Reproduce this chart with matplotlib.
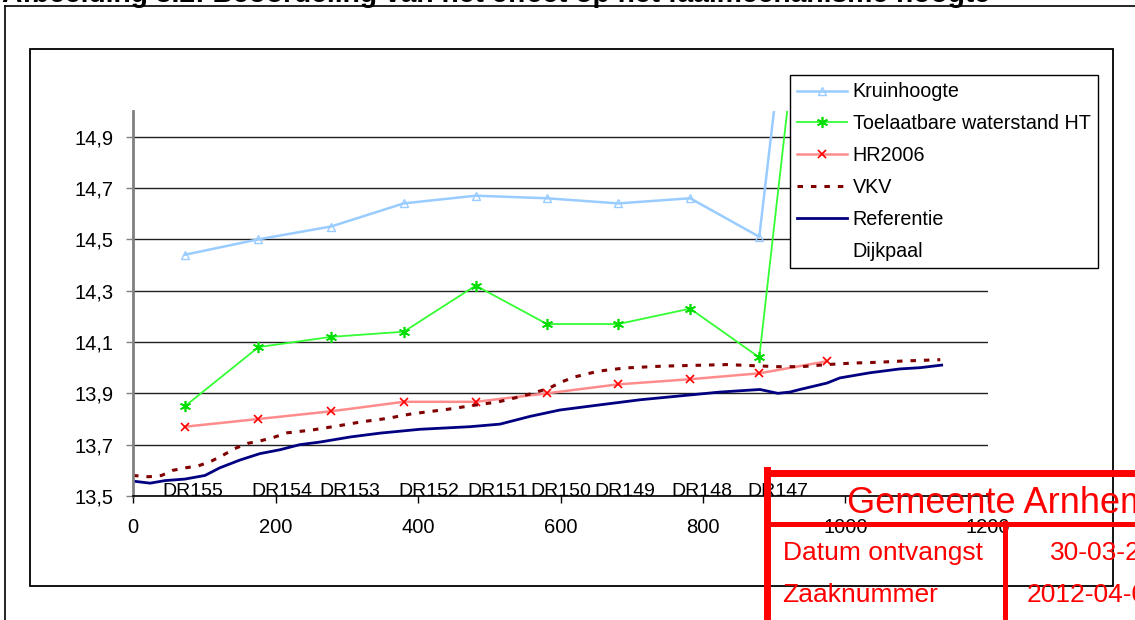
import matplotlib.pyplot as plt
from matplotlib.lines import Line2D
from matplotlib.patches import Rectangle
from matplotlib.ticker import FuncFormatter, MultipleLocator

plt.rcParams['font.family'] = ['Liberation Sans', 'DejaVu Sans']

W, H = 1135, 620

# meetpunten (afstand in m) met kruinhoogte, toelaatbare waterstand en HR2006
punt_x = [73, 176, 278, 380, 481, 581, 681, 782, 879, 974]
kruinhoogte = [14.44, 14.50, 14.55, 14.64, 14.67, 14.66, 14.64, 14.66, 14.51, 16.77]
toelaatbaar = [13.85, 14.08, 14.12, 14.14, 14.32, 14.17, 14.17, 14.23, 14.04, 16.37]
hr2006 = [13.77, 13.80, 13.83, 13.867, 13.867, 13.90, 13.935, 13.955, 13.978, 14.025]

# VKV (gestippeld)
vkv_x = [0, 22, 40, 56, 74, 91, 108, 127, 143, 161, 179, 197, 216, 251, 285, 321,
         356, 391, 442, 480, 513, 548, 583, 602, 620, 639, 655, 691, 744, 833,
         904, 939, 974, 1011, 1046, 1081, 1133]
vkv_y = [13.58, 13.575, 13.58, 13.60, 13.61, 13.617, 13.633, 13.66, 13.685, 13.705,
         13.715, 13.728, 13.746, 13.757, 13.772, 13.789, 13.802, 13.82, 13.838,
         13.854, 13.867, 13.89, 13.919, 13.945, 13.964, 13.977, 13.987, 13.999,
         14.006, 14.012, 14.004, 14.004, 14.012, 14.018, 14.021, 14.026, 14.031]

# referentie
ref_x = [0, 24, 45, 73, 101, 122, 150, 178, 206, 234, 262, 305, 347, 403, 473, 515,
         557, 599, 655, 712, 768, 824, 852, 880, 905, 922, 936, 974, 992, 1034,
         1076, 1105, 1135]
ref_y = [13.558, 13.55, 13.56, 13.566, 13.58, 13.61, 13.64, 13.665, 13.68, 13.70,
         13.71, 13.73, 13.745, 13.76, 13.77, 13.78, 13.81, 13.835, 13.855, 13.875,
         13.89, 13.905, 13.91, 13.915, 13.90, 13.905, 13.915, 13.94, 13.96, 13.98,
         13.995, 14.0, 14.01]

# dijkpalen
dijkpaal_x = [84, 209, 304, 415, 512, 601, 690, 799, 905]
dijkpaal = ['DR155', 'DR154', 'DR153', 'DR152', 'DR151', 'DR150', 'DR149', 'DR148', 'DR147']

titel = 'Afbeelding 3.2: Beoordeling van het effect op het faalmechanisme hoogte'


def fx(px):
    return px / W


def fy(py):
    return 1 - py / H


fig = plt.figure(figsize=(W / 100, H / 100), dpi=100)

# titel (bovenkant valt buiten de afbeelding)
fig.text(fx(2), fy(2), titel, fontsize=20.3, fontweight='bold', va='baseline', ha='left')

# paginakader
fig.add_artist(Line2D([fx(5), fx(W)], [fy(6), fy(6)], color='black', lw=1.2,
                      transform=fig.transFigure))
fig.add_artist(Line2D([fx(5), fx(5)], [fy(6), fy(H)], color='black', lw=1.2,
                      transform=fig.transFigure))
fig.add_artist(Rectangle((fx(30), fy(586)), (1113 - 30) / W, (586 - 49) / H,
                         fill=False, ec='black', lw=1.3, transform=fig.transFigure))

ax = fig.add_axes([fx(133), fy(496), (988 - 133) / W, (496 - 111) / H])

ax.plot(punt_x, kruinhoogte, color='#99CCFF', lw=1.8, marker='^', ms=6,
        mfc='none', mec='#99CCFF', mew=1, label='Kruinhoogte')
ax.plot(punt_x, toelaatbaar, color='#33FF33', lw=1.3, marker=(6, 2, 0), ms=8,
        mec='#00DD00', mew=1.2, label='Toelaatbare waterstand HT')
ax.plot(punt_x, hr2006, color='#FF8C8C', lw=1.8, marker='x', ms=6,
        mec='#FF0000', mew=1.2, label='HR2006')
ax.plot(vkv_x, vkv_y, color='#800000', lw=2.2, dashes=(1.8, 2.6),
        dash_capstyle='butt', label='VKV')
ax.plot(ref_x, ref_y, color='#000080', lw=2, label='Referentie')
ax.plot([], [], ls='none', marker='none', label='Dijkpaal')

for x, lab in zip(dijkpaal_x, dijkpaal):
    ax.text(x, 13.5, lab, ha='center', va='baseline', fontsize=14)

ax.set_xlim(0, 1200)
ax.set_ylim(13.5, 15.0)
ax.xaxis.set_major_locator(MultipleLocator(200))
ax.set_yticks([13.5, 13.7, 13.9, 14.1, 14.3, 14.5, 14.7, 14.9])
ax.yaxis.set_major_formatter(FuncFormatter(lambda v, p: f'{v:.1f}'.replace('.', ',')))
ax.tick_params(axis='y', direction='out', length=5, width=1, color='#808080',
               labelsize=14.5, pad=9)
ax.tick_params(axis='x', direction='out', length=5, width=1, color='black',
               labelsize=14.5, pad=11)
ax.grid(axis='y', color='#202020', lw=1)
ax.set_axisbelow(True)
for s in ['top', 'right']:
    ax.spines[s].set_visible(False)
ax.spines['left'].set_color('#808080')
ax.spines['left'].set_linewidth(2)
ax.spines['bottom'].set_color('black')
ax.spines['bottom'].set_linewidth(1.2)

leg = ax.legend(loc='upper left', bbox_to_anchor=(fx(790), fy(75)),
                bbox_transform=fig.transFigure, borderaxespad=0, fontsize=14.2,
                frameon=True, fancybox=False, edgecolor='black', framealpha=1,
                handlelength=2.5, handletextpad=0.3, labelspacing=0.65,
                borderpad=0.38)
leg.get_frame().set_linewidth(1)

# stempel gemeente
rood = '#FF0000'
fig.add_artist(Line2D([fx(767), fx(W)], [fy(473), fy(473)], color=rood, lw=5,
                      transform=fig.transFigure))
fig.add_artist(Line2D([fx(767), fx(767)], [fy(470), fy(H)], color=rood, lw=5,
                      transform=fig.transFigure))
fig.add_artist(Line2D([fx(767), fx(W)], [fy(523.5), fy(523.5)], color=rood, lw=3.6,
                      transform=fig.transFigure))
fig.add_artist(Line2D([fx(1005), fx(1005)], [fy(523), fy(H)], color=rood, lw=3.6,
                      transform=fig.transFigure))
fig.text(fx(847), fy(513), 'Gemeente Arnhem', color=rood, fontsize=26, va='baseline')
fig.text(fx(783), fy(560), 'Datum ontvangst', color=rood, fontsize=19, va='baseline')
fig.text(fx(1050), fy(560), '30-03-2012', color=rood, fontsize=19, va='baseline')
fig.text(fx(782), fy(602), 'Zaaknummer', color=rood, fontsize=19, va='baseline')
fig.text(fx(1027), fy(602), '2012-04-0', color=rood, fontsize=19, va='baseline')

fig.savefig('out.png', dpi=100)
